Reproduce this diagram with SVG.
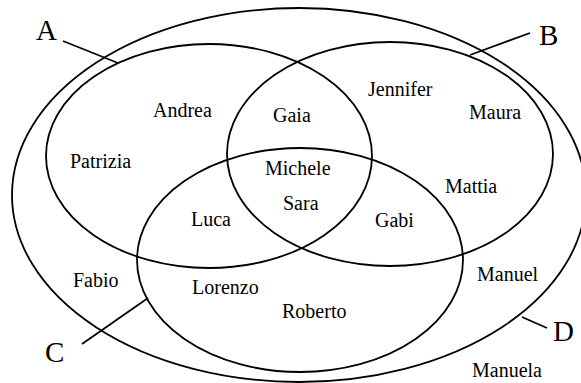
<svg xmlns="http://www.w3.org/2000/svg" width="581" height="383" viewBox="0 0 581 383">
<style>
.s{fill:none;stroke:#000;stroke-width:1.8}
.n{font-family:'Liberation Serif','DejaVu Serif',serif;font-size:20px;fill:#000}
.l{font-family:'Liberation Serif','DejaVu Serif',serif;font-size:29px;fill:#000}
</style>
<rect width="581" height="383" fill="#fff"/>
<g id="D"><ellipse class="s" cx="299" cy="195" rx="287" ry="187"/><text class="l" x="553" y="341" font-family="Liberation Serif">D</text></g>
<g id="A"><ellipse class="s" cx="209" cy="156" rx="163" ry="112"/><text class="l" x="36" y="40" font-family="Liberation Serif">A</text></g>
<g id="B"><ellipse class="s" cx="390" cy="154" rx="163" ry="112"/><text class="l" x="539" y="45" font-family="Liberation Serif">B</text></g>
<g id="C"><ellipse class="s" cx="300" cy="260" rx="163" ry="112"/><text class="l" x="45" y="362" font-family="Liberation Serif">C</text></g>
<g id="connectors">
<line class="s" x1="63" y1="41" x2="118" y2="63"/>
<line class="s" x1="470" y1="55" x2="530" y2="33"/>
<line class="s" x1="82" y1="344" x2="148" y2="298"/>
<line class="s" x1="522" y1="317" x2="547" y2="328"/>
</g>
<g id="names" font-family="Liberation Serif">
<text class="n" x="153" y="117">Andrea</text>
<text class="n" x="70" y="168">Patrizia</text>
<text class="n" x="273" y="122">Gaia</text>
<text class="n" x="265" y="175">Michele</text>
<text class="n" x="283" y="210">Sara</text>
<text class="n" x="368" y="96">Jennifer</text>
<text class="n" x="469" y="119">Maura</text>
<text class="n" x="445" y="193">Mattia</text>
<text class="n" x="191" y="226">Luca</text>
<text class="n" x="375" y="227">Gabi</text>
<text class="n" x="73" y="287">Fabio</text>
<text class="n" x="192" y="294">Lorenzo</text>
<text class="n" x="282" y="318">Roberto</text>
<text class="n" x="477" y="281">Manuel</text>
<text class="n" x="472" y="377">Manuela</text>
</g>
</svg>
